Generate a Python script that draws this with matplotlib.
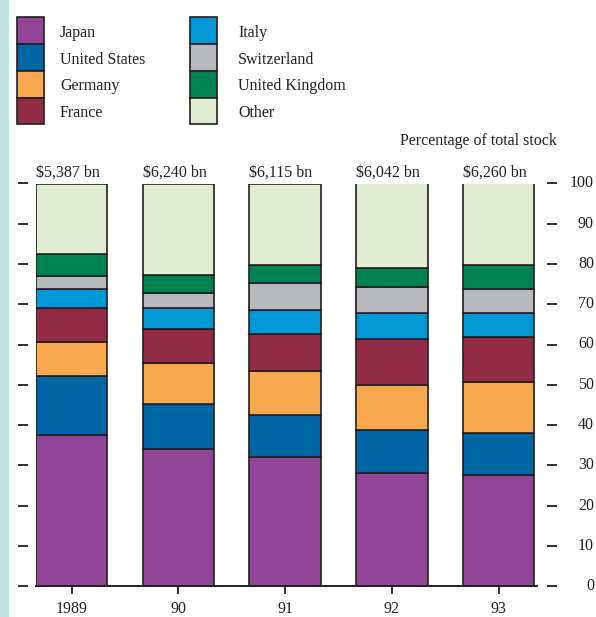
#!/usr/bin/env python3

import numpy as np
import matplotlib.pyplot as plt
from matplotlib.patches import Rectangle

plt.rcParams['font.family'] = ['Liberation Serif', 'DejaVu Serif']

years = ['1989', '90', '91', '92', '93']
totals = ['$5,387 bn', '$6,240 bn', '$6,115 bn', '$6,042 bn', '$6,260 bn']
countries = ['Japan', 'United States', 'Germany', 'France',
             'Italy', 'Switzerland', 'United Kingdom', 'Other']
colors = ['#924497', '#0066a4', '#f8a94f', '#922b46',
          '#0098d6', '#b8b9bd', '#008253', '#e1edd0']
yticks = [0, 10, 20, 30, 40, 50, 60, 70, 80, 90, 100]

# percentage of total stock, per country and year
japan = [37.6, 34.0, 32.1, 28.1, 27.5]
us = [14.5, 11.3, 10.5, 10.6, 10.6]
germany = [8.4, 10.0, 10.7, 11.2, 12.6]
france = [8.5, 8.5, 9.3, 11.4, 11.2]
italy = [4.8, 5.3, 5.9, 6.6, 5.9]
switzerland = [3.3, 3.7, 6.7, 6.3, 6.0]
uk = [5.3, 4.4, 4.6, 4.9, 6.0]
other = [17.6, 22.8, 20.2, 20.9, 20.2]

shares = [japan, us, germany, france, italy, switzerland, uk, other]
edge = '#231f20'
fs = 11.5

W, H = 596, 617
fig = plt.figure(figsize=(W / 100, H / 100), dpi=100)

# background layer in pixel coords: side strip and legend
lax = fig.add_axes([0, 0, 1, 1])
lax.set_xlim(0, W)
lax.set_ylim(H, 0)
lax.axis('off')
lax.add_patch(Rectangle((0, 0), 9, H, facecolor='#c4e2df', edgecolor='none'))

for i, (name, col) in enumerate(zip(countries, colors)):
    c, r = divmod(i, 4)
    px = 17 if c == 0 else 190
    tx = 60 if c == 0 else 238
    y0 = 17.3 + r * 26.75
    lax.add_patch(Rectangle((px, y0), 27, 26.75, facecolor=col,
                            edgecolor=edge, linewidth=1.2))
    lax.text(tx, y0 + 15.5, name, fontsize=fs, va='center', ha='left',
             color='#231f20')

lax.text(557, 141, 'Percentage of total stock', fontsize=fs,
         ha='right', va='center', color='#231f20')

# main chart
ax = fig.add_axes([36 / W, 31 / H, 501 / W, 402.5 / H])
ax.patch.set_facecolor('none')

x = np.arange(len(years))
width = 0.67
bottom = np.zeros(len(years))
for vals, col in zip(shares, colors):
    ax.bar(x, vals, width=width, bottom=bottom, color=col,
           edgecolor=edge, linewidth=1.2)
    bottom += np.array(vals)

for xi, lab in zip(x, totals):
    ax.annotate(lab, (xi - width / 2, 100), xytext=(0, 5),
                textcoords='offset points', ha='left', va='baseline',
                fontsize=fs, color='#231f20')

ax.set_xlim(-width / 2, 4.36)
ax.set_ylim(0, 100)

ax.set_xticks(x)
ax.set_xticklabels(years, fontsize=fs, color='#231f20')
ax.tick_params(axis='x', direction='out', length=6, width=1.3,
               color=edge, pad=5)

# ticks on both sides, detached from the plot; labels right-aligned on the right
ax.set_yticks(yticks)
ax.tick_params(axis='y', left=True, right=True, labelleft=False,
               labelright=False, direction='out', length=7.2, width=1.3,
               color=edge)
for v in yticks:
    ax.annotate(str(v), (1, v), xycoords=ax.get_yaxis_transform(),
                xytext=(41, 0), textcoords='offset points',
                ha='right', va='center', fontsize=fs, color='#231f20')

ax.spines['left'].set_position(('outward', 5.8))
ax.spines['right'].set_position(('outward', 7.2))
ax.spines['left'].set_color('none')
ax.spines['right'].set_color('none')
ax.spines['top'].set_visible(False)
ax.spines['bottom'].set_linewidth(1.4)
ax.spines['bottom'].set_color(edge)

fig.savefig('out.png', dpi=100)
